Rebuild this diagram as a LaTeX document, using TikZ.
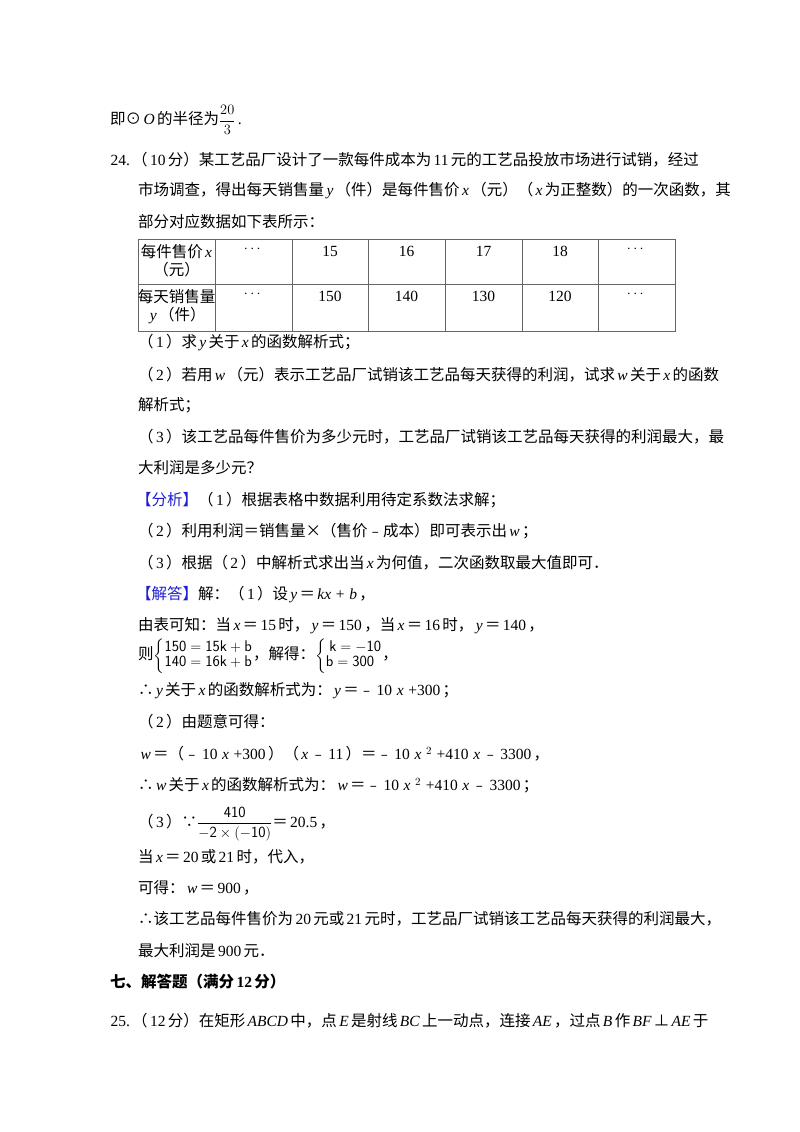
\documentclass[tikz,border=0pt]{standalone}
\usepackage{amsmath}
\usepackage{fontspec}
\setmainfont{Noto Sans CJK SC}
\newfontfamily\latinfont{Liberation Serif}
\newcommand{\ls}[1]{\hspace{0.15em}{\latinfont #1}\hspace{0.15em}}
\newcommand{\vi}[1]{\hspace{0.15em}{\latinfont\itshape #1}\hspace{0.15em}}
\newcommand{\dd}{$\cdots$}
\definecolor{hd}{RGB}{30,30,210}
\begin{document}
\begin{tikzpicture}[x=1pt,y=-1pt,
  t/.style={anchor=west,inner sep=0pt,font=\fontsize{15.5}{18}\selectfont},
  c/.style={anchor=north,inner sep=0pt,font=\fontsize{15.5}{18}\selectfont,align=center},
  grid/.style={draw=black!60,line width=0.8pt}]
\useasboundingbox (0,0) rectangle (800,1132);
\node[t] (l1) at (110,120) {即⊙\vi{O}的半径为$\dfrac{20}{3}$\ls{.}};
\node[t] (l2) at (108,160) {\ls{24.}（\ls{10}分）某工艺品厂设计了一款每件成本为\ls{11}元的工艺品投放市场进行试销，经过};
\node[t] (l3) at (138,191) {市场调查，得出每天销售量\vi{y}（件）是每件售价\vi{x}（元）（\vi{x}为正整数）的一次函数，其};
\node[t] (l4) at (138,222) {部分对应数据如下表所示：};
% table
\draw[grid] (138,239) rectangle (675,331);
\draw[grid] (138,284) -- (675,284);
\foreach \xx in {215,292,368,445,522,598} \draw[grid] (\xx,239) -- (\xx,331);
\node[c] (h1) at (176.5,244) {每件售价\vi{x}\\（元）};
\node[c] (h2) at (176.5,289) {每天销售量\\\vi{y}（件）};
\node[c] (a1) at (253.5,246) {\dd};
\node[c] (a2) at (330,246) {\ls{15}};
\node[c] (a3) at (406.5,246) {\ls{16}};
\node[c] (a4) at (483.5,246) {\ls{17}};
\node[c] (a5) at (560,246) {\ls{18}};
\node[c] (a6) at (636.5,246) {\dd};
\node[c] (b1) at (253.5,291) {\dd};
\node[c] (b2) at (330,291) {\ls{150}};
\node[c] (b3) at (406.5,291) {\ls{140}};
\node[c] (b4) at (483.5,291) {\ls{130}};
\node[c] (b5) at (560,291) {\ls{120}};
\node[c] (b6) at (636.5,291) {\dd};
\node[t] (q1) at (138,343) {（\ls{1}）求\vi{y}关于\vi{x}的函数解析式；};
\node[t] (q2) at (138,375) {（\ls{2}）若用\vi{w}（元）表示工艺品厂试销该工艺品每天获得的利润，试求\vi{w}关于\vi{x}的函数};
\node[t] (q2b) at (138,405) {解析式；};
\node[t] (q3) at (138,437) {（\ls{3}）该工艺品每件售价为多少元时，工艺品厂试销该工艺品每天获得的利润最大，最};
\node[t] (q3b) at (138,468) {大利润是多少元？};
\node[t] (f1) at (136,500) {\textcolor{hd}{【分析】}（\ls{1}）根据表格中数据利用待定系数法求解；};
\node[t] (f2) at (138,531) {（\ls{2}）利用利润＝销售量×（售价﹣成本）即可表示出\vi{w}；};
\node[t] (f3) at (138,563) {（\ls{3}）根据（\ls{2}）中解析式求出当\vi{x}为何值，二次函数取最大值即可．};
\node[t] (s1) at (136,595) {\textcolor{hd}{【解答】}解：（\ls{1}）设\vi{y}＝\vi{kx}\ls{+}\vi{b}，};
\node[t] (s2) at (138,626) {由表可知：当\vi{x}＝\ls{15}时，\vi{y}＝\ls{150}，当\vi{x}＝\ls{16}时，\vi{y}＝\ls{140}，};
\node[t] (s3) at (138,656) {\renewcommand{\arraystretch}{0.85}则$\left\{\begin{array}{@{}l@{}}\mathsf{150=15k+b}\\ \mathsf{140=16k+b}\end{array}\right.$，解得：$\left\{\begin{array}{@{}l@{}}\ \mathsf{k=-10}\\ \mathsf{b=300}\end{array}\right.$，};
\node[t] (s4) at (138,691) {∴\vi{y}关于\vi{x}的函数解析式为：\vi{y}＝﹣\ls{10}\vi{x}\ls{+300}；};
\node[t] (s5) at (138,722) {（\ls{2}）由题意可得：};
\node[t] (s6) at (138,754) {\vi{w}＝（﹣\ls{10}\vi{x}\ls{+300}）（\vi{x}﹣\ls{11}）＝﹣\ls{10}\vi{x}$^{\ls{2}}$\ls{+410}\vi{x}﹣\ls{3300}，};
\node[t] (s7) at (138,785) {∴\vi{w}关于\vi{x}的函数解析式为：\vi{w}＝﹣\ls{10}\vi{x}$^{\ls{2}}$\ls{+410}\vi{x}﹣\ls{3300}；};
\node[t] (s8) at (138,824) {（\ls{3}）∵$\dfrac{\mathsf{410}}{\mathsf{-2\times(-10)}}$＝\ls{20.5}，};
\node[t] (s9) at (138,857) {当\vi{x}＝\ls{20}或\ls{21}时，代入，};
\node[t] (s10) at (138,888) {可得：\vi{w}＝\ls{900}，};
\node[t] (s11) at (138,919) {∴该工艺品每件售价为\ls{20}元或\ls{21}元时，工艺品厂试销该工艺品每天获得的利润最大，};
\node[t] (s12) at (138,951) {最大利润是\ls{900}元．};
\node[t,font=\fontsize{15.5}{18}\selectfont\bfseries] (sec) at (110,982) {七、解答题（满分\ls{\textbf{12}}分）};
\node[t] (p25) at (108,1021) {\ls{25.}（\ls{12}分）在矩形\vi{ABCD}中，点\vi{E}是射线\vi{BC}上一动点，连接\vi{AE}，过点\vi{B}作\vi{BF}⊥\vi{AE}于};
\end{tikzpicture}
\end{document}
